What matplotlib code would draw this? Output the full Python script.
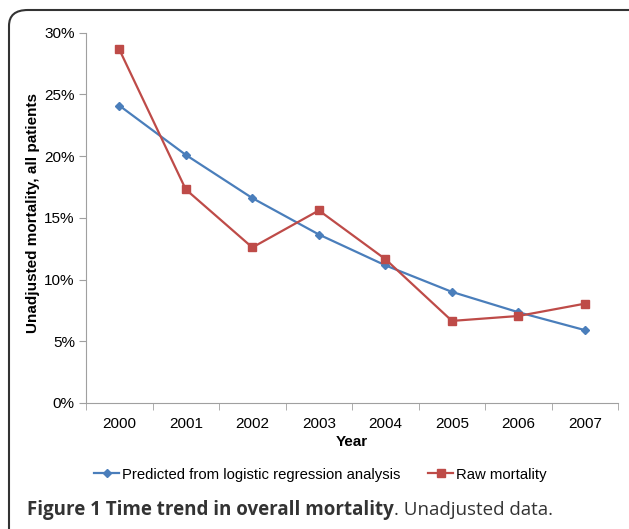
import matplotlib
matplotlib.use("Agg")
from matplotlib import pyplot as plt
from matplotlib.patches import FancyBboxPatch
from matplotlib.ticker import FuncFormatter, FixedLocator
import numpy as np

years = ["2000", "2001", "2002", "2003", "2004", "2005", "2006", "2007"]
predicted = [24.1, 20.1, 16.6, 13.65, 11.15, 9.0, 7.35, 5.9]
raw = [28.65, 17.3, 12.6, 15.6, 11.65, 6.65, 7.05, 8.05]

plt.rcParams['font.family'] = ['Liberation Sans', 'DejaVu Sans']

fig = plt.figure(figsize=(6.29, 5.29), dpi=100)
ax = fig.add_axes([0.1367, 0.2382, 0.8463, 0.7])

x = np.arange(len(years))
ax.plot(x, predicted, color="#4A7EBB", lw=1.6, marker="D", ms=4.5,
        label="Predicted from logistic regression analysis")
ax.plot(x, raw, color="#BE4B48", lw=1.6, marker="s", ms=6,
        label="Raw mortality")

ax.set_xlim(-0.5, len(years) - 0.5)
ax.set_ylim(0, 30)
ax.set_yticks(np.arange(0, 31, 5))
ax.yaxis.set_major_formatter(FuncFormatter(lambda v, p: "%d%%" % v))
ax.set_xticks(x)
ax.set_xticklabels(years)
ax.xaxis.set_minor_locator(FixedLocator(np.arange(-0.5, len(years), 1)))
ax.tick_params(axis="x", which="major", length=0, pad=10, labelsize=11)
ax.tick_params(axis="x", which="minor", length=5, color="#A0A0A0", direction="out")
ax.tick_params(axis="y", length=5, color="#A0A0A0", labelsize=11, pad=3)

for s in ["top", "right"]:
    ax.spines[s].set_visible(False)
for s in ["left", "bottom"]:
    ax.spines[s].set_color("#A0A0A0")

ax.set_xlabel("Year", fontsize=11, fontweight="bold", labelpad=3)
ax.set_ylabel("Unadjusted mortality, all patients", fontsize=11,
              fontweight="bold")
ax.yaxis.set_label_coords(-0.087, 0.512)

fig.legend(loc="center", bbox_to_anchor=(0.509, 0.103), ncol=2, frameon=False,
           fontsize=10.7, handlelength=1.7, columnspacing=1.9, handletextpad=0.15)

# caption
cap = fig.text(27 / 629, 1 - 510 / 529, "Figure 1 Time trend in overall mortality",
               fontsize=13.5, fontweight="bold", color="#333333",
               family="Open Sans", va="center")
fig.canvas.draw()
bb = cap.get_window_extent()
fig.text(bb.x1 / 629, 1 - 510 / 529, ". Unadjusted data.", fontsize=13.5,
         color="#333333", family="Open Sans", va="center")

# rounded border
box = FancyBboxPatch((9 / 629, -0.05), 640 / 629, 1 - 10 / 529 + 0.05,
                     boxstyle="round,pad=0,rounding_size=0.03",
                     transform=fig.transFigure, fill=False,
                     edgecolor="#333333", lw=1.5, clip_on=False)
fig.patches.append(box)

fig.savefig("out.png", dpi=100)
